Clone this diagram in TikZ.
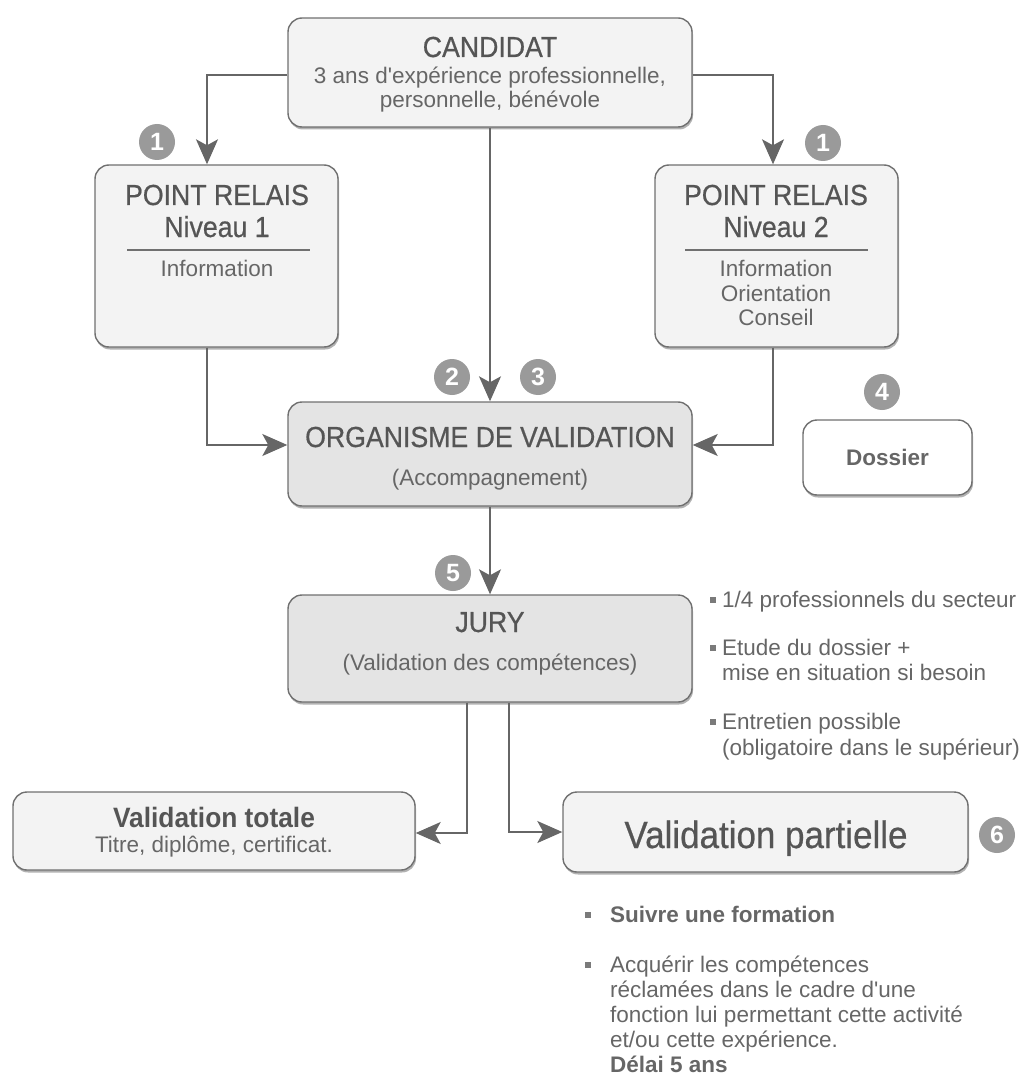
\documentclass[tikz,border=0pt]{standalone}
\usepackage{fontspec}
\setmainfont{Liberation Sans}[Ligatures=TeXOff]
\newfontfamily\titlefont{Liberation Sans}[FakeStretch=0.92,FakeBold=0.6,Ligatures=TeXOff]
\newfontfamily\titleboldfont{Liberation Sans Bold}[FakeStretch=0.94,Ligatures=TeXOff]
\usetikzlibrary{arrows.meta,shadows}
\definecolor{boxline}{HTML}{707070}
\definecolor{boxfill}{HTML}{F3F3F3}
\definecolor{boxdark}{HTML}{E4E4E4}
\definecolor{txttitle}{HTML}{555555}
\definecolor{txtbody}{HTML}{666666}
\definecolor{arrcol}{HTML}{666666}
\definecolor{numfill}{HTML}{9A9A9A}
\definecolor{bulcol}{HTML}{7A7A7A}
\tikzset{
  box/.style={draw=boxline, line width=1.4pt, rounded corners=14pt, fill=boxfill, inner sep=0pt,
    drop shadow={shadow xshift=1pt, shadow yshift=-2.5pt, fill=black!55, opacity=0.55}},
  darkbox/.style={box, fill=boxdark},
  ttl/.style={inner sep=0pt, anchor=base, text=txttitle, font=\titlefont\fontsize{29}{31}\selectfont},
  tx/.style={inner sep=0pt, anchor=base, text=txtbody, font=\fontsize{22.5}{25}\selectfont},
  txl/.style={tx, anchor=base west},
  arr/.style={draw=arrcol, line width=1.5pt, -{Stealth[length=25pt,width=22pt,inset=6pt]}},
  num/.style={circle, fill=numfill, text=white, font=\fontsize{25}{25}\selectfont\bfseries, inner sep=0pt, minimum size=36pt},
  bul/.style={rectangle, fill=bulcol, minimum size=6pt, inner sep=0pt},
  sep/.style={draw=boxline, line width=1.3pt}
}
\begin{document}
\begin{tikzpicture}[x=1pt,y=-1pt]
\useasboundingbox (0,0) rectangle (1027,1075);

% boxes
\node[box, minimum width=404pt, minimum height=109pt] (cand) at (490,72.5) {};
\node[box, minimum width=243pt, minimum height=182pt] (pr1) at (216.5,256) {};
\node[box, minimum width=243pt, minimum height=182pt] (pr2) at (776.5,256) {};
\node[darkbox, minimum width=404pt, minimum height=104pt] (org) at (490,454) {};
\node[box, fill=white, minimum width=169pt, minimum height=75pt] (dos) at (887.5,457.5) {};
\node[darkbox, minimum width=404pt, minimum height=107pt] (jury) at (490,648.5) {};
\node[box, minimum width=402pt, minimum height=78pt] (vt) at (214,831) {};
\node[box, minimum width=405pt, minimum height=80pt] (vp) at (765.5,832) {};

% texts
\node[ttl] (tcand) at (490,57) {CANDIDAT};
\node[tx] (tcand2) at (490,84) {3 ans d'expérience professionnelle,};
\node[tx] (tcand3) at (490,108) {personnelle, bénévole};

\node[ttl] (tpr1a) at (217,205) {POINT RELAIS};
\node[ttl] (tpr1b) at (217,237) {Niveau 1};
\draw[sep] (127,250) -- (310,250);
\node[tx] (tpr1c) at (217,276) {Information};

\node[ttl] (tpr2a) at (776,205) {POINT RELAIS};
\node[ttl] (tpr2b) at (776,237) {Niveau 2};
\draw[sep] (685,250) -- (868,250);
\node[tx] (tpr2c) at (776,276) {Information};
\node[tx] (tpr2d) at (776,301) {Orientation};
\node[tx] (tpr2e) at (776,325) {Conseil};

\node[ttl] (torg) at (490,447) {ORGANISME DE VALIDATION};
\node[tx] (torg2) at (490,485) {(Accompagnement)};

\node[tx, font=\fontsize{22.5}{25}\selectfont\bfseries] (tdos) at (887.5,465) {Dossier};

\node[ttl] (tjury) at (490,632) {JURY};
\node[tx] (tjury2) at (490,670) {(Validation des compétences)};

\node[ttl, font=\titleboldfont\fontsize{28}{30}\selectfont] (tvt) at (214,827) {Validation totale};
\node[tx] (tvt2) at (214,852) {Titre, diplôme, certificat.};

\node[ttl, font=\titlefont\fontsize{38}{40}\selectfont] (tvp) at (766,848) {Validation partielle};

% numbered circles
\node[num] (n1a) at (157,142) {1};
\node[num] (n1b) at (823,143) {1};
\node[num] (n2) at (452,377) {2};
\node[num] (n3) at (538,377) {3};
\node[num] (n4) at (882,392) {4};
\node[num] (n5) at (453,573) {5};
\node[num] (n6) at (997,835) {6};

% connectors
\draw[arr] ([yshift=-2.5pt]cand.west) -| ([xshift=-9.5pt]pr1.north);
\draw[arr] ([yshift=-2.5pt]cand.east) -| ([xshift=-3.5pt]pr2.north);
\draw[arr] (cand.south) -- (org.north);
\draw[arr] ([xshift=-9.5pt]pr1.south) |- ([yshift=9pt]org.west);
\draw[arr] ([xshift=-3.5pt]pr2.south) |- ([yshift=9pt]org.east);
\draw[arr] (org.south) -- (jury.north);
\draw[arr] ([xshift=-23pt]jury.south) |- ([yshift=-2pt]vt.east);
\draw[arr] ([xshift=19pt]jury.south) |- ([yshift=0pt]vp.west);

% jury notes
\node[bul] (bj1) at (713,600) {};
\node[txl] (tj1) at (722,607) {1/4 professionnels du secteur};
\node[bul] (bj2) at (713,648) {};
\node[txl] (tj2) at (722,655) {Etude du dossier +};
\node[txl] (tj2b) at (722,680) {mise en situation si besoin};
\node[bul] (bj3) at (713,722) {};
\node[txl] (tj3) at (722,729) {Entretien possible};
\node[txl] (tj3b) at (722,755) {(obligatoire dans le supérieur)};

% partial validation notes
\node[bul] (bp1) at (588,915) {};
\node[txl, font=\fontsize{22.5}{25}\selectfont\bfseries] (tp1) at (610,922) {Suivre une formation};
\node[bul] (bp2) at (588,965) {};
\node[txl] (tp2) at (610,972) {Acquérir les compétences};
\node[txl] (tp2b) at (610,997) {réclamées dans le cadre d'une};
\node[txl] (tp2c) at (610,1022) {fonction lui permettant cette activité};
\node[txl] (tp2d) at (610,1047) {et/ou cette expérience.};
\node[txl, font=\fontsize{22.5}{25}\selectfont\bfseries] (tp2e) at (610,1072) {Délai 5 ans};
\end{tikzpicture}
\end{document}
